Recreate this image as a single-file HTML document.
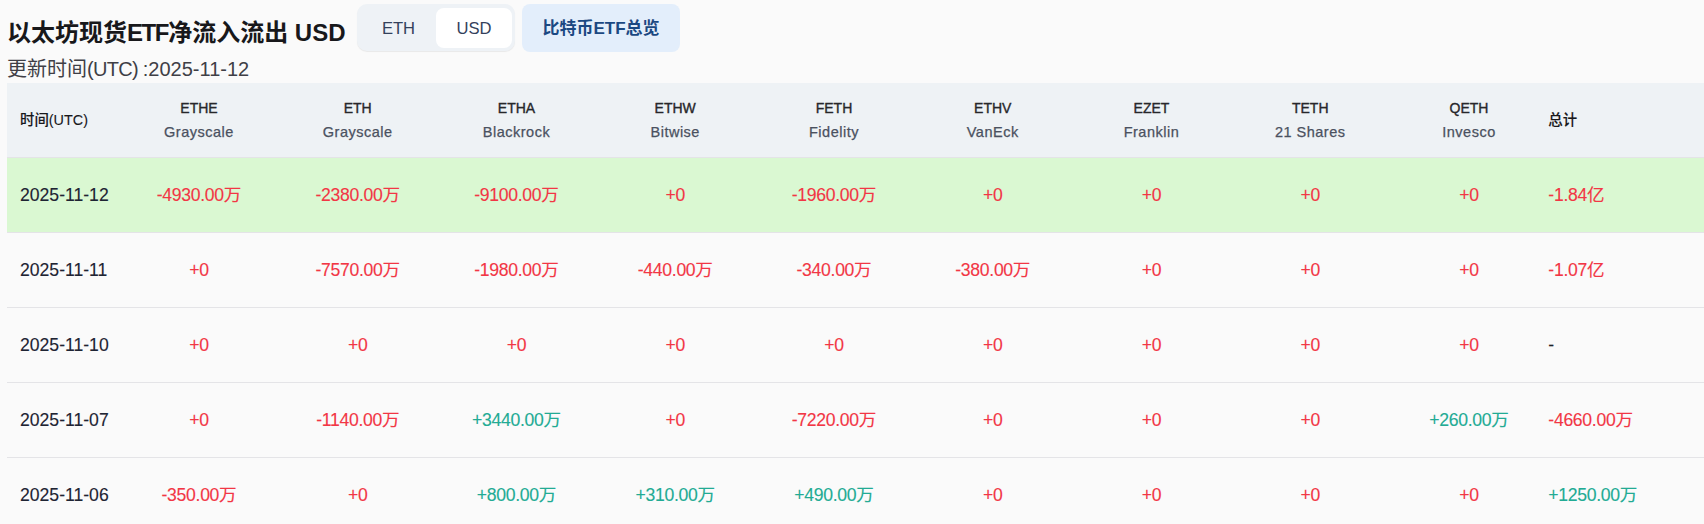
<!DOCTYPE html>
<html lang="zh-CN">
<head>
<meta charset="utf-8">
<title>以太坊现货ETF净流入流出</title>
<style>
*{box-sizing:border-box;margin:0;padding:0}
html,body{width:1704px;height:524px;overflow:hidden;background:#fafafa;}
body{font-family:"Liberation Sans","Noto Sans CJK SC",sans-serif;color:#1f2329;position:relative}
.title{position:absolute;left:7px;top:16px;font-size:24px;font-weight:bold;line-height:34px;height:34px;color:#18181b;white-space:nowrap}
.title i{font-style:normal;letter-spacing:-1.4px}
.sub i{font-style:normal;letter-spacing:-.7px}
.sub{position:absolute;left:7px;top:56px;font-size:20px;line-height:26px;height:26px;color:#3f3f46;white-space:nowrap}
.toggle{position:absolute;left:357px;top:4px;width:157.5px;height:47px;background:#eef2f6;border-radius:10px;box-shadow:0 1px 1px rgba(0,0,0,.07)}
.toggle span{position:absolute;top:4px;height:40px;line-height:41px;text-align:center;font-size:16.6px;color:#33415c}
.toggle .a{left:4px;width:75px}
.toggle .b{left:79px;width:76px;background:#fff;border-radius:8px}
.btn{position:absolute;left:522px;top:4px;width:158px;height:48px;background:#e3eefb;border-radius:8px;line-height:50px;text-align:center;font-size:17px;font-weight:bold;color:#1b4882;white-space:nowrap}
.tbl{position:absolute;left:7px;top:83px;width:1697px}
.row{display:flex;height:75px;border-bottom:1px solid #e4e4e7;align-items:center;font-size:17.6px;line-height:24px;letter-spacing:-.3px;-webkit-text-stroke:.12px}
.row>div{height:24px;white-space:nowrap}
.row.head{background:#eef2f5;font-size:14.4px;color:#4a5160;letter-spacing:0;-webkit-text-stroke:.25px}
.row.head>.c{height:48px}
.row.hl{background:#daf8d2}
.c0{width:112.6px;padding-left:13px;flex:none;color:#1e2433;font-size:17.6px;letter-spacing:0}
.c{width:158.75px;flex:none;text-align:center}
.cl{flex:1;text-align:left;padding-left:0}
.head .c0{font-size:14.4px}
.head .c div{line-height:24px;height:24px}
.head .c div:first-child{color:#27272a;font-size:14px;-webkit-text-stroke:.35px}
.head .c div:last-child{font-size:14.5px;letter-spacing:.5px}
.head .c0,.head .cl{color:#18181b;font-weight:500;-webkit-text-stroke:.1px}
.r{color:#f23645}
.g{color:#22ab94}
</style>
</head>
<body>
<div class="title">以太坊现货<i>ETF</i>净流入流出 USD</div>
<div class="toggle"><span class="a">ETH</span><span class="b">USD</span></div>
<div class="btn">比特币ETF总览</div>
<div class="sub">更新时间<i>(UTC) </i>:2025-11-12</div>
<div class="tbl">
 <div class="row head">
  <div class="c0">时间(UTC)</div>
  <div class="c"><div>ETHE</div><div>Grayscale</div></div>
  <div class="c"><div>ETH</div><div>Grayscale</div></div>
  <div class="c"><div>ETHA</div><div>Blackrock</div></div>
  <div class="c"><div>ETHW</div><div>Bitwise</div></div>
  <div class="c"><div>FETH</div><div>Fidelity</div></div>
  <div class="c"><div>ETHV</div><div>VanEck</div></div>
  <div class="c"><div>EZET</div><div>Franklin</div></div>
  <div class="c"><div>TETH</div><div>21 Shares</div></div>
  <div class="c"><div>QETH</div><div>Invesco</div></div>
  <div class="cl">总计</div>
 </div>
 <div class="row hl">
  <div class="c0">2025-11-12</div>
  <div class="c r">-4930.00万</div><div class="c r">-2380.00万</div><div class="c r">-9100.00万</div><div class="c r">+0</div><div class="c r">-1960.00万</div><div class="c r">+0</div><div class="c r">+0</div><div class="c r">+0</div><div class="c r">+0</div>
  <div class="cl r">-1.84亿</div>
 </div>
 <div class="row">
  <div class="c0">2025-11-11</div>
  <div class="c r">+0</div><div class="c r">-7570.00万</div><div class="c r">-1980.00万</div><div class="c r">-440.00万</div><div class="c r">-340.00万</div><div class="c r">-380.00万</div><div class="c r">+0</div><div class="c r">+0</div><div class="c r">+0</div>
  <div class="cl r">-1.07亿</div>
 </div>
 <div class="row">
  <div class="c0">2025-11-10</div>
  <div class="c r">+0</div><div class="c r">+0</div><div class="c r">+0</div><div class="c r">+0</div><div class="c r">+0</div><div class="c r">+0</div><div class="c r">+0</div><div class="c r">+0</div><div class="c r">+0</div>
  <div class="cl">-</div>
 </div>
 <div class="row">
  <div class="c0">2025-11-07</div>
  <div class="c r">+0</div><div class="c r">-1140.00万</div><div class="c g">+3440.00万</div><div class="c r">+0</div><div class="c r">-7220.00万</div><div class="c r">+0</div><div class="c r">+0</div><div class="c r">+0</div><div class="c g">+260.00万</div>
  <div class="cl r">-4660.00万</div>
 </div>
 <div class="row">
  <div class="c0">2025-11-06</div>
  <div class="c r">-350.00万</div><div class="c r">+0</div><div class="c g">+800.00万</div><div class="c g">+310.00万</div><div class="c g">+490.00万</div><div class="c r">+0</div><div class="c r">+0</div><div class="c r">+0</div><div class="c r">+0</div>
  <div class="cl g">+1250.00万</div>
 </div>
</div>
</body>
</html>
